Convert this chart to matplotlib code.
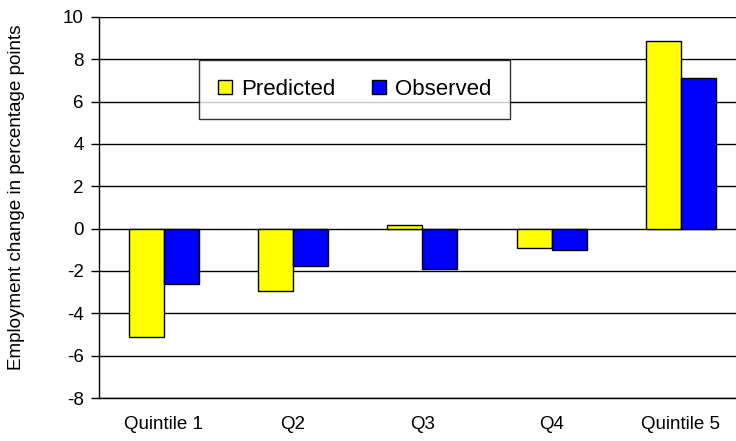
import matplotlib
matplotlib.use("Agg")
import matplotlib.pyplot as plt
import numpy as np

categories = ["Quintile 1", "Q2", "Q3", "Q4", "Quintile 5"]
predicted = [-5.1, -2.95, 0.15, -0.93, 8.85]
observed = [-2.6, -1.75, -1.9, -1.0, 7.1]
series_names = ["Predicted", "Observed"]
y_ticks = [-8, -6, -4, -2, 0, 2, 4, 6, 8, 10]

plt.rcParams["font.family"] = ["Liberation Sans", "DejaVu Sans"]

W, H = 736, 441
fig = plt.figure(figsize=(W / 100, H / 100), dpi=100)
ax = fig.add_axes([0.1345, 0.0975, 0.8785, 0.864])

x = np.arange(len(categories))
w = 0.27
ax.bar(x - w / 2, predicted, w, color="#FFFF00", edgecolor="black",
       linewidth=1.0, zorder=3, label=series_names[0])
ax.bar(x + w / 2, observed, w, color="#0000FF", edgecolor="black",
       linewidth=1.0, zorder=3, label=series_names[1])

ax.set_xlim(-0.5, len(categories) - 0.5)
ax.set_ylim(-8, 10)
ax.set_yticks(y_ticks)
ax.set_yticklabels([str(t) for t in y_ticks], fontsize=13.5)
ax.set_xticks(x)
ax.set_xticklabels(categories, fontsize=13.5)
ax.tick_params(axis="x", length=0, pad=13)
ax.tick_params(axis="y", length=6, width=1, direction="out", pad=5)

ax.yaxis.grid(True, color="black", linewidth=1.0, zorder=0)
ax.set_axisbelow(True)
for s in ["top", "right"]:
    ax.spines[s].set_visible(False)
ax.spines["left"].set_linewidth(1.0)
ax.spines["bottom"].set_linewidth(1.0)

fig.text(17 / W, 1 - 197 / H, "Employment change in percentage points",
         rotation=90, ha="center", va="center", fontsize=13.6)

leg = fig.legend(loc="upper left", bbox_to_anchor=(199 / W, 1 - 60 / H), ncol=2,
                 fontsize=16, frameon=True, fancybox=False, shadow=False,
                 handlelength=0.63, handleheight=0.63, handletextpad=0.4,
                 columnspacing=1.65, borderpad=0.85, borderaxespad=0)
leg.get_frame().set_edgecolor("black")
leg.get_frame().set_linewidth(1.0)

fig.savefig("out.png", dpi=100)
